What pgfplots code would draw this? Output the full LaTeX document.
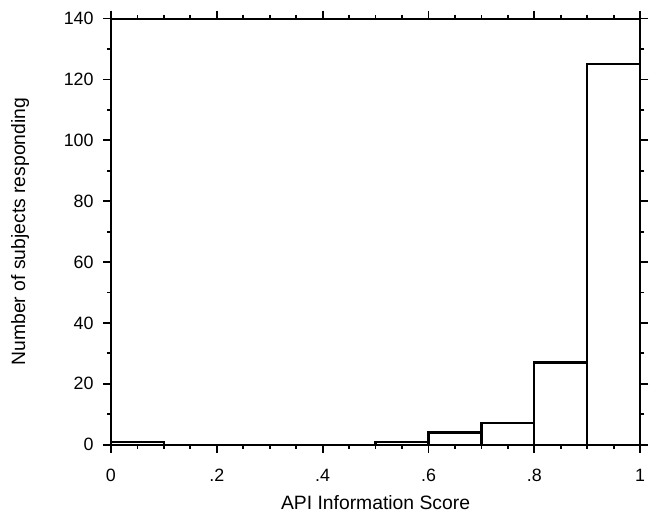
\documentclass[border={8pt 3pt 1pt 9pt}]{standalone}
\usepackage{fontspec}
\setmainfont{Liberation Sans}
\usepackage{pgfplots}
\pgfplotsset{compat=1.18}

\begin{document}
\begin{tikzpicture}
\begin{axis}[
  scale only axis,
  width=534pt, height=430pt,
  xmin=0, xmax=1, ymin=0, ymax=140,
  xtick={0,0.2,0.4,0.6,0.8,1},
  xticklabels={0,.2,.4,.6,.8,1},
  minor x tick num=3,
  ytick={0,20,...,140},
  minor y tick num=1,
  tick align=outside,
  major tick length=8pt, minor tick length=4pt,
  tick style={black, line width=1.8pt},
  axis line style={line width=2pt},
  tick label style={font=\fontsize{18}{21}\selectfont},
  xticklabel style={yshift=-13pt},
  yticklabel style={xshift=-6pt},
  /pgf/number format/assume math mode=true,
  xlabel={API Information Score},
  ylabel={Number of subjects responding},
  label style={font=\fontsize{19.5}{23}\selectfont},
  xlabel style={yshift=-7pt},
  ylabel style={yshift=28pt},
  axis on top,
]
\addplot[ybar interval, fill=white, draw=black, line width=2.2pt]
  coordinates {(0,1) (0.1,0) (0.2,0) (0.3,0) (0.4,0) (0.5,1) (0.6,4) (0.7,7) (0.8,27) (0.9,125) (1.0,125)};
\end{axis}
\end{tikzpicture}
\end{document}
